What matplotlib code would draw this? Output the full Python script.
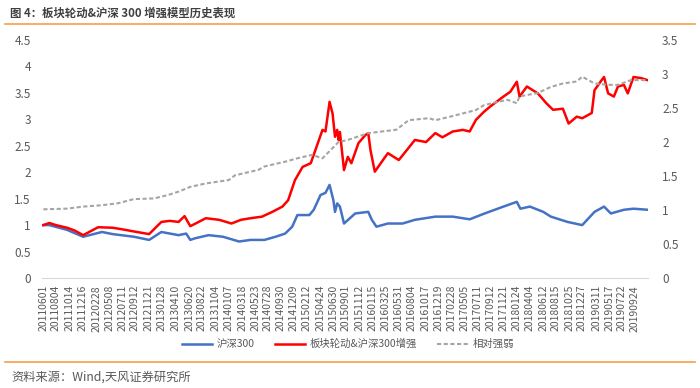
import numpy as np
import matplotlib
matplotlib.use("Agg")
import matplotlib.pyplot as plt
from matplotlib.lines import Line2D

plt.rcParams['font.family'] = ['Noto Sans CJK SC', 'DejaVu Sans']

# x axis labels (every ~45 trading days)
tick_labels = ["20110601", "20110804", "20111014", "20111216", "20120228", "20120508",
               "20120711", "20120912", "20121121", "20130128", "20130410", "20130620",
               "20130822", "20131104", "20140107", "20140318", "20140523", "20140728",
               "20140930", "20141209", "20150212", "20150424", "20150630", "20150901",
               "20151112", "20160115", "20160325", "20160531", "20160804", "20161017",
               "20161219", "20170228", "20170505", "20170711", "20170912", "20171121",
               "20180124", "20180404", "20180612", "20180815", "20181025", "20181227",
               "20190311", "20190517", "20190722", "20190924"]

# 板块轮动&沪深300增强 (left axis)
red_dates = ["20110601", "20110701", "20110804", "20110930", "20111108", "20111222",
             "20120308", "20120522", "20120711", "20120907", "20121126", "20130128",
             "20130312", "20130425", "20130527", "20130625", "20130705", "20130912",
             "20131120", "20140122", "20140312", "20140430", "20140627", "20140820",
             "20141010", "20141110", "20141215", "20150122", "20150305", "20150410",
             "20150505", "20150520", "20150610", "20150625", "20150708", "20150720",
             "20150727", "20150803", "20150824", "20150911", "20150930", "20151105",
             "20151210", "20151225", "20160106", "20160128", "20160310", "20160405",
             "20160531", "20160705", "20160822", "20161018", "20161205", "20170110",
             "20170303", "20170425", "20170530", "20170630", "20170810", "20170912",
             "20171120", "20171225", "20180126", "20180209", "20180320", "20180515",
             "20180628", "20180801", "20180920", "20181019", "20181130", "20181228",
             "20190215", "20190301", "20190408", "20190419", "20190510", "20190610",
             "20190701", "20190731", "20190820", "20190918", "20191025", "20191129"]
red_vals = [1.00, 1.04, 1.00, 0.95, 0.90, 0.81,
            0.96, 0.95, 0.92, 0.88, 0.83, 1.06,
            1.08, 1.06, 1.17, 0.98, 1.00, 1.13,
            1.10, 1.03, 1.10, 1.13, 1.16, 1.25,
            1.35, 1.47, 1.85, 2.10, 2.17, 2.55,
            2.80, 2.77, 3.33, 3.11, 2.67, 2.80,
            2.61, 2.76, 2.04, 2.29, 2.17, 2.55,
            2.70, 2.74, 2.42, 2.01, 2.23, 2.36,
            2.23, 2.39, 2.61, 2.57, 2.74, 2.66,
            2.77, 2.80, 2.77, 2.99, 3.14, 3.24,
            3.43, 3.52, 3.71, 3.43, 3.62, 3.49,
            3.30, 3.18, 3.20, 2.92, 3.05, 3.02,
            3.12, 3.55, 3.74, 3.80, 3.49, 3.43,
            3.62, 3.65, 3.49, 3.80, 3.78, 3.74]

# 沪深300 (left axis)
blue_dates = ["20110601", "20110701", "20110930", "20111222", "20120328", "20120522",
              "20120907", "20121126", "20130128", "20130425", "20130604", "20130625",
              "20130718", "20130926", "20131210", "20140303", "20140430", "20140710",
              "20140905", "20141024", "20141201", "20141226", "20150226", "20150320",
              "20150424", "20150520", "20150610", "20150630", "20150708", "20150720",
              "20150803", "20150824", "20151020", "20151225", "20160113", "20160205",
              "20160405", "20160620", "20160822", "20161205", "20170303", "20170530",
              "20170815", "20171120", "20180126", "20180214", "20180404", "20180612",
              "20180720", "20181015", "20181228", "20190301", "20190419", "20190524",
              "20190731", "20190918", "20191129"]
blue_vals = [1.00, 1.00, 0.91, 0.78, 0.87, 0.83,
             0.78, 0.72, 0.87, 0.81, 0.84, 0.72,
             0.75, 0.81, 0.78, 0.69, 0.72, 0.72,
             0.78, 0.84, 0.97, 1.19, 1.19, 1.29,
             1.57, 1.61, 1.76, 1.47, 1.25, 1.41,
             1.35, 1.03, 1.22, 1.25, 1.10, 0.97,
             1.03, 1.03, 1.10, 1.16, 1.16, 1.11,
             1.22, 1.35, 1.44, 1.31, 1.35, 1.25,
             1.16, 1.06, 1.00, 1.25, 1.35, 1.22,
             1.29, 1.31, 1.29]

# 相对强弱 (right axis)
gray_dates = ["20110601", "20110930", "20111222", "20120328", "20120620", "20120907",
              "20121220", "20130301", "20130425", "20130625", "20130912", "20140108",
              "20140210", "20140610", "20140710", "20141024", "20141226", "20150312",
              "20150505", "20150625", "20150727", "20150911", "20151225", "20160518",
              "20160720", "20161101", "20161205", "20170215", "20170425", "20170630",
              "20170810", "20171020", "20171211", "20180126", "20180209", "20180515",
              "20180720", "20180920", "20181130", "20181228", "20190301", "20190510",
              "20190701", "20190905", "20191129"]
gray_vals = [1.01, 1.02, 1.05, 1.07, 1.10, 1.16,
             1.17, 1.22, 1.27, 1.34, 1.39, 1.44,
             1.51, 1.59, 1.64, 1.71, 1.76, 1.81,
             1.76, 1.91, 2.00, 2.03, 2.13, 2.18,
             2.32, 2.35, 2.32, 2.37, 2.42, 2.47,
             2.54, 2.59, 2.62, 2.57, 2.67, 2.72,
             2.81, 2.86, 2.89, 2.96, 2.86, 2.84,
             2.84, 2.91, 2.91]


def to_pos(dates):
    # trading-day position counted from the first date
    d = [s[:4] + "-" + s[4:6] + "-" + s[6:] for s in dates]
    return np.busday_count("2011-06-01", np.array(d, dtype="datetime64[D]"))


fig = plt.figure(figsize=(7, 3.88), dpi=100)
ax = fig.add_axes([0.06, 0.2835, 0.866, 0.6135])
ax2 = ax.twinx()

txt = "#595959"
ax.plot(to_pos(blue_dates), blue_vals, color="#4472C4", lw=1.8)
ax.plot(to_pos(red_dates), red_vals, color="#FF0000", lw=1.8)
ax2.plot(to_pos(gray_dates), gray_vals, color="#A5A5A5", lw=1.5, dashes=(2, 1.2))

last = to_pos(red_dates)[-1]
ax.set_xlim(-5, last + 2)
ax.set_ylim(0, 4.5)
ax2.set_ylim(0, 3.5)
ax.set_yticks(np.arange(0, 4.51, 0.5))
ax.set_yticklabels(["0", "0.5", "1", "1.5", "2", "2.5", "3", "3.5", "4", "4.5"])
ax2.set_yticks(np.arange(0, 3.51, 0.5))
ax2.set_yticklabels(["0", "0.5", "1", "1.5", "2", "2.5", "3", "3.5"])

ax.set_xticks(to_pos(tick_labels))
ax.set_xticklabels(tick_labels, rotation=90, fontsize=7.5, color=txt)

for a in (ax, ax2):
    for s in a.spines.values():
        s.set_visible(False)
    a.tick_params(length=0, labelsize=8.5, labelcolor=txt)
ax.tick_params(axis="x", labelsize=7.5, pad=5)
ax.tick_params(axis="y", pad=8)
ax2.tick_params(axis="y", pad=10)
ax.spines["bottom"].set_visible(True)
ax.spines["bottom"].set_color("#D9D9D9")

handles = [Line2D([], [], color="#4472C4", lw=1.8),
           Line2D([], [], color="#FF0000", lw=1.8),
           Line2D([], [], color="#A5A5A5", lw=1.5, dashes=(2, 1.2))]
fig.legend(handles, ["沪深300", "板块轮动&沪深300增强", "相对强弱"], loc="center",
           bbox_to_anchor=(0.497, 0.113), ncol=3, frameon=False, fontsize=7.5,
           labelcolor=txt, handlelength=2.9, handletextpad=0.5, columnspacing=1.9)

# title, separator lines and source
fig.text(0.014, 0.965, "图 4：板块轮动&沪深 300 增强模型历史表现", fontsize=8.2,
         fontweight="bold", color="#404040", va="center")
fig.add_artist(Line2D([0.007, 0.993], [0.937, 0.937], color="#F5A04A", lw=1.2))
fig.add_artist(Line2D([0.007, 0.993], [0.067, 0.067], color="#F5A04A", lw=1.2))
fig.text(0.017, 0.028, "资料来源：Wind,天风证券研究所", fontsize=8.8, color=txt, va="center")

plt.savefig("out.png", dpi=100)
